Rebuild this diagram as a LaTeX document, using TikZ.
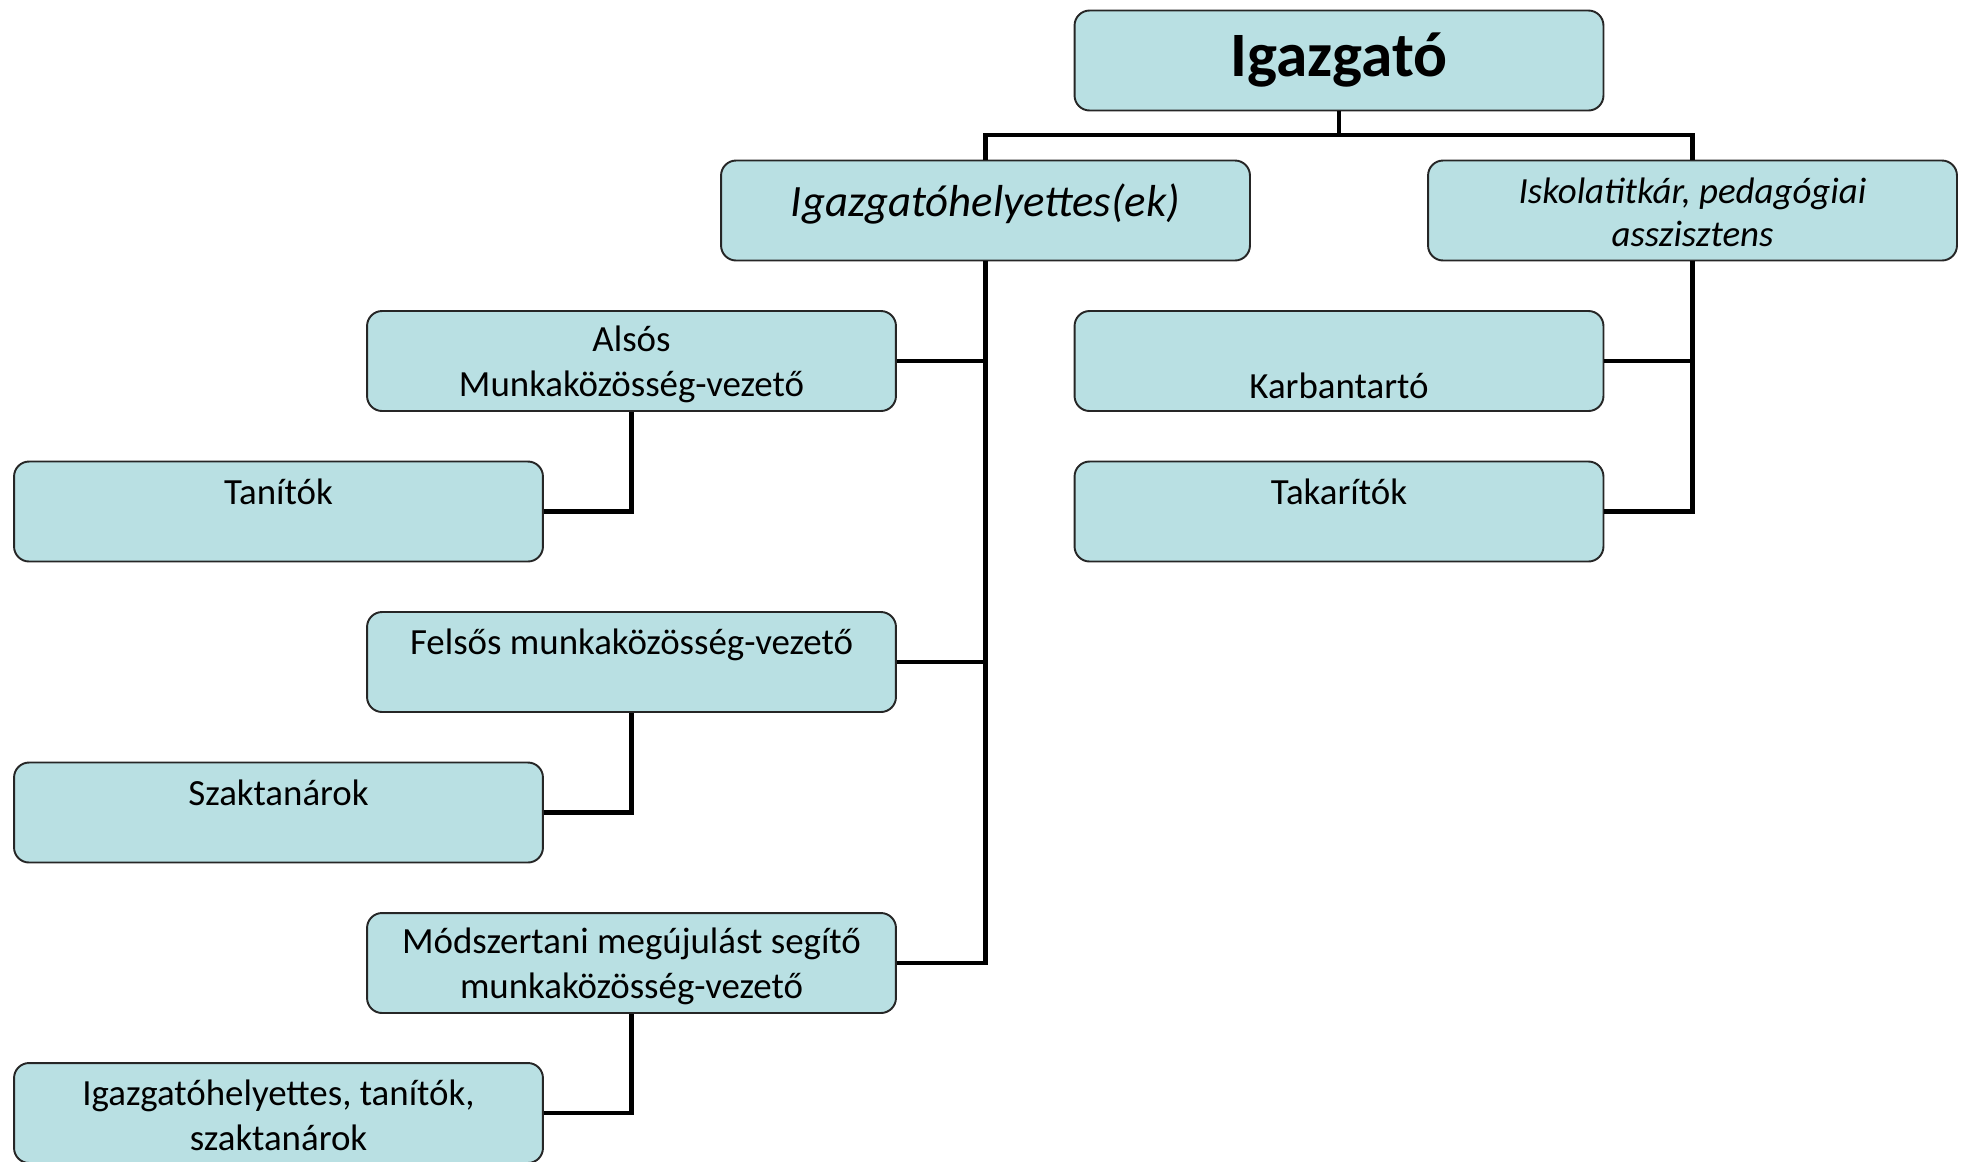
\documentclass[tikz,border=0pt]{standalone}
\usepackage{fontspec}
\setmainfont{Carlito}
\usepackage{xcolor}
\definecolor{boxfill}{HTML}{B9E0E3}
\newcommand{\botstrut}{\rule[-0.03cm]{0pt}{0.6cm}}

\begin{document}
\begin{tikzpicture}[
          x=0.02cm, y=-0.02cm,
          box/.style={draw=black!85, line width=1.1pt, fill=boxfill, minimum width=10.58cm, minimum height=2cm, inner ysep=0pt, align=center, rounded corners=0.3cm, font=\fontsize{21}{25.6}\selectfont},
          line/.style={line width=2.8pt}
        ]
          \useasboundingbox (0,0) rectangle (1966,1161);

          % Top
          \node[box, font=\fontsize{36}{40}\selectfont\bfseries] (igazgato) at (1339,60.5) {Igazgató};
          \node[box, font=\fontsize{25.5}{30}\selectfont\itshape] (helyettes) at (985.5,210.5) {\raisebox{-0.11cm}[0pt][0pt]{Igazgatóhelyettes(ek)}};
          \node[box, font=\fontsize{21}{24.5}\selectfont\itshape] (titkar) at (1692.5,210.5) {\strut Iskolatitkár, pedagógiai\\\botstrut asszisztens};

          % Left side
          \node[box] (also) at (631.5,361) {\strut Alsós\\\botstrut Munkaközösség-vezető};
          \node[box] (tanitok) at (278.5,511.5) {\strut Tanítók\\\botstrut};
          \node[box] (felso) at (631.5,662) {\strut Felsős munkaközösség-vezető\\\botstrut};
          \node[box] (szaktanar) at (278.5,812.5) {\strut Szaktanárok\\\botstrut};
          \node[box] (modszer) at (631.5,963) {\strut Módszertani megújulást segítő\\\botstrut munkaközösség-vezető};
          \node[box] (tanarok) at (278.5,1113) {\strut Igazgatóhelyettes, tanítók,\\\botstrut szaktanárok};

          % Right side
          \node[box] (karban) at (1339,361) {\strut\\\botstrut Karbantartó};
          \node[box] (takarito) at (1339,511.5) {\strut Takarítók\\\botstrut};

          % Connections
          \coordinate (bus) at (1339,135);
          \draw[line] (igazgato) -- (bus);
          \draw[line] (helyettes.north) |- (bus) -| (titkar.north);
          \draw[line] (helyettes.south) |- (modszer.east);
          \draw[line] (also.east) -- (also.east -| helyettes.south);
          \draw[line] (felso.east) -- (felso.east -| helyettes.south);
          \draw[line] (titkar.south) |- (takarito.east);
          \draw[line] (karban.east) -- (karban.east -| titkar.south);
          \draw[line] (also.south) |- (tanitok.east);
          \draw[line] (felso.south) |- (szaktanar.east);
          \draw[line] (modszer.south) |- (tanarok.east);
        \end{tikzpicture}
\end{document}
